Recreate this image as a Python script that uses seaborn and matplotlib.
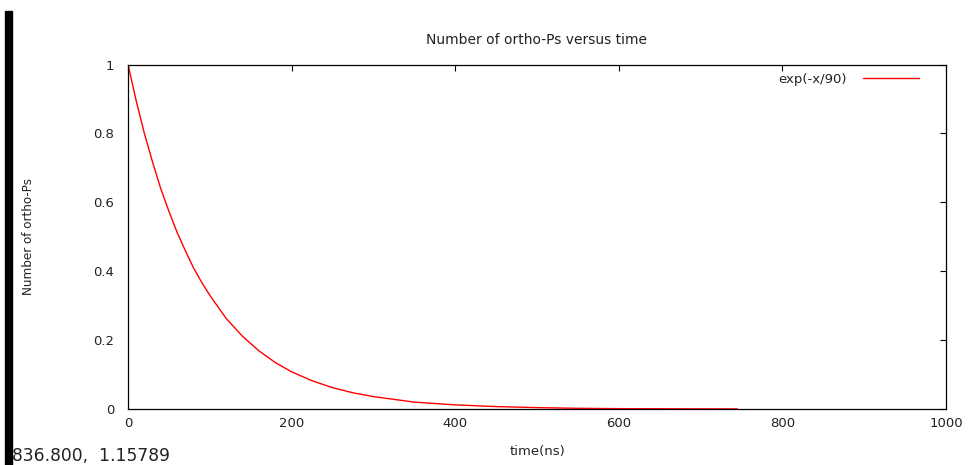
import matplotlib
matplotlib.use("Agg")
import matplotlib.pyplot as plt
import seaborn as sns
import pandas as pd
from matplotlib.patches import Rectangle

# values
time_ns = [0, 10, 20, 30, 40, 50, 60, 70, 80, 90, 100, 120, 140, 160, 180, 200,
           225, 250, 275, 300, 350, 400, 450, 500, 550, 600, 650, 700, 745]
n_ops = [1.0, 0.895, 0.80, 0.717, 0.64, 0.574, 0.513, 0.46, 0.41, 0.368, 0.33,
         0.263, 0.211, 0.169, 0.135, 0.108, 0.082, 0.062, 0.047, 0.036, 0.020,
         0.012, 0.007, 0.004, 0.002, 0.001, 0.0007, 0.0004, 0.0003]
series_label = "exp(-x/90)"
x_ticks = [0, 200, 400, 600, 800, 1000]
y_ticks = [0, 0.2, 0.4, 0.6, 0.8, 1]
y_tick_labels = ["0", "0.2", "0.4", "0.6", "0.8", "1"]

df = pd.DataFrame({"time": time_ns, "n": n_ops, "series": series_label})

sns.set_style("white")
plt.rcParams["font.family"] = ["DejaVu Sans"]

TXT = "#222222"
fig = plt.figure(figsize=(9.69, 4.65), dpi=100)
ax = fig.add_axes([128 / 969, 1 - 409 / 465, (946 - 128) / 969, (409 - 64.5) / 465])

sns.lineplot(data=df, x="time", y="n", hue="series", palette=["#ff0000"],
             linewidth=1.0, ax=ax)

ax.set_xlim(0, 1000)
ax.set_ylim(0, 1)
ax.set_xticks(x_ticks)
ax.set_xticklabels([str(t) for t in x_ticks])
ax.set_yticks(y_ticks)
ax.set_yticklabels(y_tick_labels)
ax.tick_params(direction="in", length=4, width=0.8, color="black",
               top=True, right=True, labelsize=9.5, labelcolor=TXT)
ax.tick_params(axis="x", pad=6)
ax.tick_params(axis="y", pad=10)
for s in ax.spines.values():
    s.set_color("black")
    s.set_linewidth(0.9)

ax.set_title("Number of ortho-Ps versus time", fontsize=10, pad=15, color=TXT)
ax.set_xlabel("time(ns)", fontsize=9.5, color=TXT)
ax.xaxis.set_label_coords(0.5, -0.105)
ax.set_ylabel("Number of ortho-Ps", fontsize=9.5, color=TXT,
              fontstretch="condensed")
ax.yaxis.set_label_coords(-0.114, 0.5)

leg = ax.legend(loc="upper right", bbox_to_anchor=(0.978, 1.0), frameon=False,
                markerfirst=False, handlelength=4.3, fontsize=9.5,
                borderaxespad=0.25, handletextpad=1.2)
for t in leg.get_texts():
    t.set_color(TXT)

fig.text(12 / 969, 1 - 456 / 465, "836.800,  1.15789", fontsize=12.3,
         va="center", ha="left", color=TXT)
fig.patches.append(Rectangle((5 / 969, 0), 6.5 / 969, 1 - 11 / 465,
                             transform=fig.transFigure, color="black", zorder=5))

fig.savefig("out.png", dpi=100)
